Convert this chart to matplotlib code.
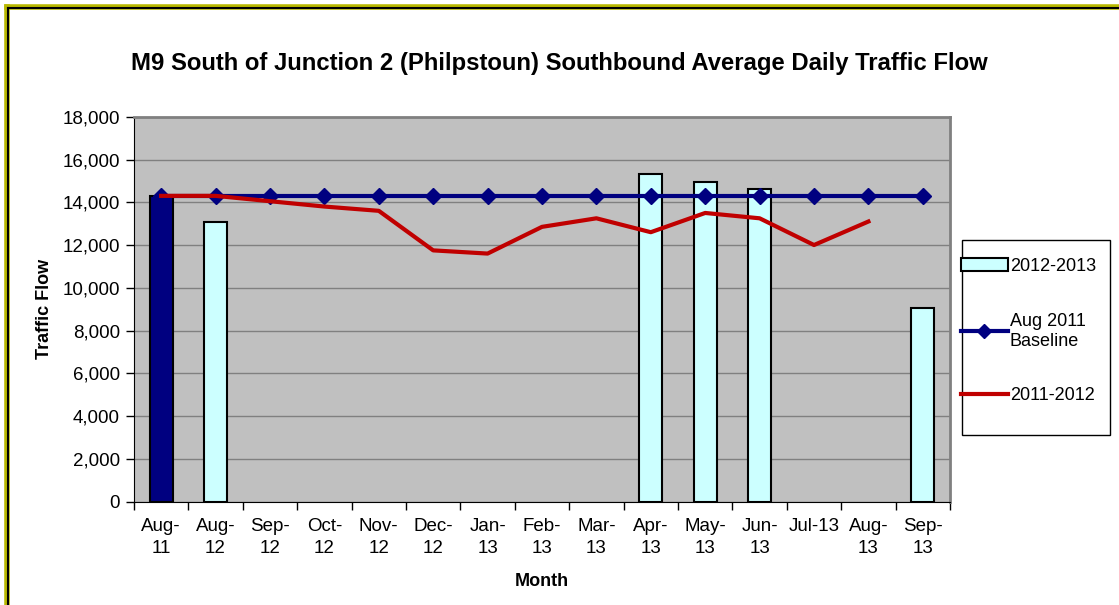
import numpy as np
import matplotlib
matplotlib.use('Agg')
import matplotlib.pyplot as plt
from matplotlib.lines import Line2D
from matplotlib.patches import Rectangle

plt.rcParams['font.family'] = ['Liberation Sans', 'DejaVu Sans']

months = ['Aug-\n11', 'Aug-\n12', 'Sep-\n12', 'Oct-\n12', 'Nov-\n12', 'Dec-\n12', 'Jan-\n13',
          'Feb-\n13', 'Mar-\n13', 'Apr-\n13', 'May-\n13', 'Jun-\n13', 'Jul-13', 'Aug-\n13', 'Sep-\n13']
nan = np.nan
flow_2012_13 = [14300, 13100, nan, nan, nan, nan, nan, nan, nan, 15300, 14950, 14600, nan, nan, 9050]
bar_colors = ['#000080'] + ['#CCFFFF'] * 14
baseline = [14300, 14300, 14300, 14300, 14300, 14300, 14300, 14300, 14300, 14300,
            14300, 14300, 14300, 14300, 14300]
flow_2011_12 = [14300, 14300, 14050, 13800, 13600, 11750, 11600, 12850, 13250, 12600,
                13500, 13250, 12000, 13100]

W, H = 1119, 605
fig = plt.figure(figsize=(W / 100, H / 100), dpi=100)
ax = fig.add_axes([0.1197, 0.171, 0.7293, 0.636])
ax.set_facecolor('#C0C0C0')

x = np.arange(len(months))
ax.bar(x, flow_2012_13, 0.42, color=bar_colors, edgecolor='black', linewidth=1.5, zorder=2)
ax.plot(x, baseline, color='#000080', lw=3, marker='D', markersize=8, zorder=3)
ax.plot(np.arange(len(flow_2011_12)), flow_2011_12, color='#C00000', lw=3, zorder=4)

ax.set_xlim(-0.5, len(months) - 0.5)
ax.set_ylim(0, 18000)
ax.set_yticks(np.arange(0, 18001, 2000))
ax.set_yticklabels(['{:,}'.format(v) for v in range(0, 18001, 2000)], fontsize=13.5)
ax.yaxis.grid(True, color='#808080', lw=1)
ax.set_axisbelow(True)
ax.set_xticks(x)
ax.set_xticklabels(months, fontsize=13.5, linespacing=1.35)
ax.set_xticks(np.arange(-0.5, len(months)), minor=True)
ax.tick_params(axis='x', which='major', length=0, pad=12)
ax.tick_params(axis='x', which='minor', length=6, width=1, color='black')
ax.tick_params(axis='y', length=6, width=1, color='black', pad=4)

for s in ['top', 'right']:
    ax.spines[s].set_color('#808080')
    ax.spines[s].set_linewidth(2)
ax.spines['left'].set_color('black')
ax.spines['bottom'].set_color('black')

ax.set_xlabel('Month', fontsize=13, fontweight='bold', labelpad=12)
ax.set_ylabel('Traffic Flow', fontsize=13, fontweight='bold', labelpad=7)
fig.text(0.5, 0.895, 'M9 South of Junction 2 (Philpstoun) Southbound Average Daily Traffic Flow',
         ha='center', va='center', fontsize=17.2, fontweight='bold')

# legend box (drawn separately, like the Excel legend frame)
fig.add_artist(Rectangle((962 / W, 1 - 435 / H), 148 / W, 195 / H, transform=fig.transFigure,
                         facecolor='white', edgecolor='black', lw=1, zorder=1))
handles = [Rectangle((0, 0), 1, 1, facecolor='#CCFFFF', edgecolor='black', lw=1.5),
           Line2D([], [], color='#000080', lw=3, marker='D', markersize=7),
           Line2D([], [], color='#C00000', lw=3)]
leg = fig.legend(handles, ['2012-2013', 'Aug 2011\nBaseline', '2011-2012'],
                 loc='upper left', bbox_to_anchor=(961 / W, 1 - 258 / H), fontsize=13,
                 frameon=False, labelspacing=2.1, handlelength=2.6, handletextpad=0.1,
                 borderpad=0, borderaxespad=0)
leg.set_zorder(2)

# outer chart frame
fig.add_artist(Line2D([7 / W, 7 / W], [0, 1 - 7 / H], transform=fig.transFigure,
                      color='#B8B800', lw=4))
fig.add_artist(Line2D([7 / W, 1], [1 - 7 / H, 1 - 7 / H], transform=fig.transFigure,
                      color='#B8B800', lw=4))
fig.add_artist(Line2D([8 / W, 8 / W], [0, 1 - 8 / H], transform=fig.transFigure,
                      color='black', lw=1.5))
fig.add_artist(Line2D([8 / W, 1], [1 - 8 / H, 1 - 8 / H], transform=fig.transFigure,
                      color='black', lw=1.5))

fig.savefig('out.png', dpi=100, facecolor='white')
